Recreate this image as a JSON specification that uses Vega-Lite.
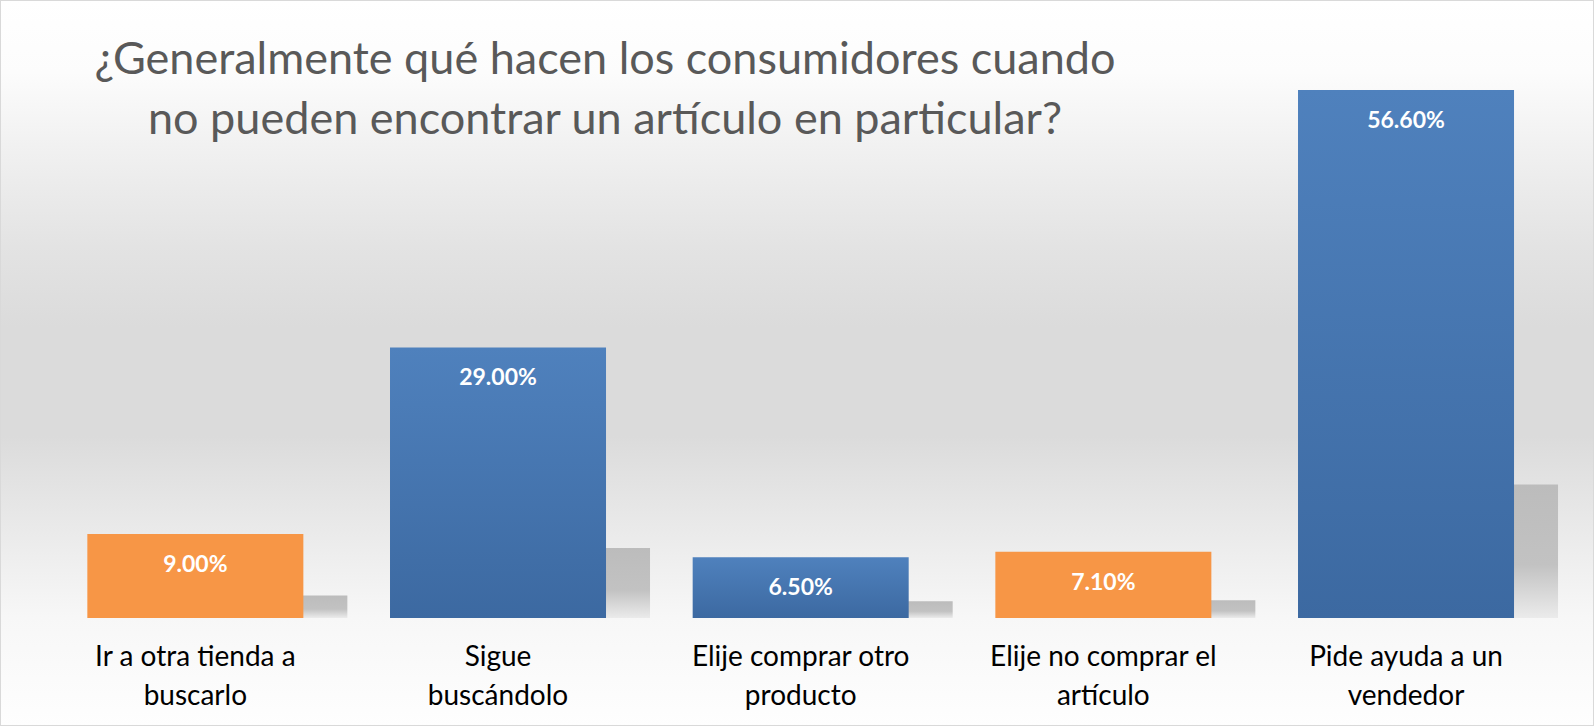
{
  "$schema": "https://vega.github.io/schema/vega-lite/v6.json",
  "width": 1594,
  "height": 726,
  "autosize": "none",
  "padding": 0,
  "background": "#ffffff",
  "config": {
    "view": {
      "stroke": "#d9d9d9",
      "strokeWidth": 2,
      "fill": {
        "gradient": "linear", "x1": 0, "y1": 0, "x2": 0, "y2": 1,
        "stops": [
          {"offset": 0, "color": "#ffffff"},
          {"offset": 0.1, "color": "#fcfcfc"},
          {"offset": 0.2, "color": "#f1f1f1"},
          {"offset": 0.34, "color": "#e3e3e3"},
          {"offset": 0.45, "color": "#dbdbdb"},
          {"offset": 0.6, "color": "#dbdbdb"},
          {"offset": 0.66, "color": "#e2e2e2"},
          {"offset": 0.75, "color": "#ececec"},
          {"offset": 0.85, "color": "#f7f7f7"},
          {"offset": 1, "color": "#fefefe"}
        ]
      }
    }
  },
  "title": {
    "text": ["¿Generalmente qué hacen los consumidores cuando", "no pueden encontrar un artículo en particular?"],
    "font": "Lato",
    "fontSize": 45,
    "fontWeight": "normal",
    "color": "#595959",
    "anchor": "middle",
    "frame": "group",
    "align": "center",
    "baseline": "top",
    "lineHeight": 60,
    "offset": 0,
    "dx": -192,
    "dy": 143
  },
  "data": {
    "values": [
      {"categoria": "Ir a otra tienda a|buscarlo", "valor": 9.0, "etiqueta": "9.00%", "grupo": "naranja", "sombra": 2.4},
      {"categoria": "Sigue|buscándolo", "valor": 29.0, "etiqueta": "29.00%", "grupo": "azul", "sombra": 7.5},
      {"categoria": "Elije comprar otro|producto", "valor": 6.5, "etiqueta": "6.50%", "grupo": "azul", "sombra": 1.8},
      {"categoria": "Elije no comprar el|artículo", "valor": 7.1, "etiqueta": "7.10%", "grupo": "naranja", "sombra": 1.9},
      {"categoria": "Pide ayuda a un|vendedor", "valor": 56.6, "etiqueta": "56.60%", "grupo": "azul", "sombra": 14.3}
    ]
  },
  "encoding": {
    "x": {
      "field": "categoria",
      "type": "nominal",
      "sort": null,
      "scale": {"paddingInner": 0.2863, "paddingOuter": 0.2764, "align": 0.522},
      "axis": {
        "orient": "bottom",
        "offset": -108,
        "domain": false,
        "ticks": false,
        "grid": false,
        "title": null,
        "labelAngle": 0,
        "labelExpr": "split(datum.value, '|')",
        "labelFont": "Lato",
        "labelFontSize": 28,
        "labelLineHeight": 39,
        "labelLimit": 500,
        "labelColor": "#000000",
        "labelPadding": 25
      }
    }
  },
  "layer": [
    {
      "mark": {
        "type": "bar",
        "xOffset": 44,
        "fill": {
          "gradient": "linear", "x1": 0, "y1": 0, "x2": 0, "y2": 1,
          "stops": [
            {"offset": 0, "color": "#bcbcbc"},
            {"offset": 0.6, "color": "#c2c2c2"},
            {"offset": 1, "color": "#ebebeb"}
          ]
        }
      },
      "encoding": {
        "y": {"field": "sombra", "type": "quantitative", "scale": {"domain": [-11.58, 66.25], "nice": false, "zero": false}, "axis": null},
        "y2": {"datum": 0}
      }
    },
    {
      "transform": [{"filter": "datum.grupo === 'azul'"}],
      "mark": {
        "type": "bar",
        "fill": {
          "gradient": "linear", "x1": 0, "y1": 0, "x2": 0, "y2": 1,
          "stops": [
            {"offset": 0, "color": "#4f81bd"},
            {"offset": 1, "color": "#3c69a1"}
          ]
        }
      },
      "encoding": {
        "y": {"field": "valor", "type": "quantitative", "scale": {"domain": [-11.58, 66.25], "nice": false, "zero": false}, "axis": null},
        "y2": {"datum": 0}
      }
    },
    {
      "transform": [{"filter": "datum.grupo === 'naranja'"}],
      "mark": {"type": "bar", "fill": "#f79646"},
      "encoding": {
        "y": {"field": "valor", "type": "quantitative", "scale": {"domain": [-11.58, 66.25], "nice": false, "zero": false}, "axis": null},
        "y2": {"datum": 0}
      }
    },
    {
      "mark": {"type": "text", "font": "Lato", "fontSize": 23, "fontWeight": "bold", "color": "#ffffff", "baseline": "middle", "align": "center", "dy": 31},
      "encoding": {
        "y": {"field": "valor", "type": "quantitative", "scale": {"domain": [-11.58, 66.25], "nice": false, "zero": false}, "axis": null},
        "text": {"field": "etiqueta"}
      }
    }
  ]
}
